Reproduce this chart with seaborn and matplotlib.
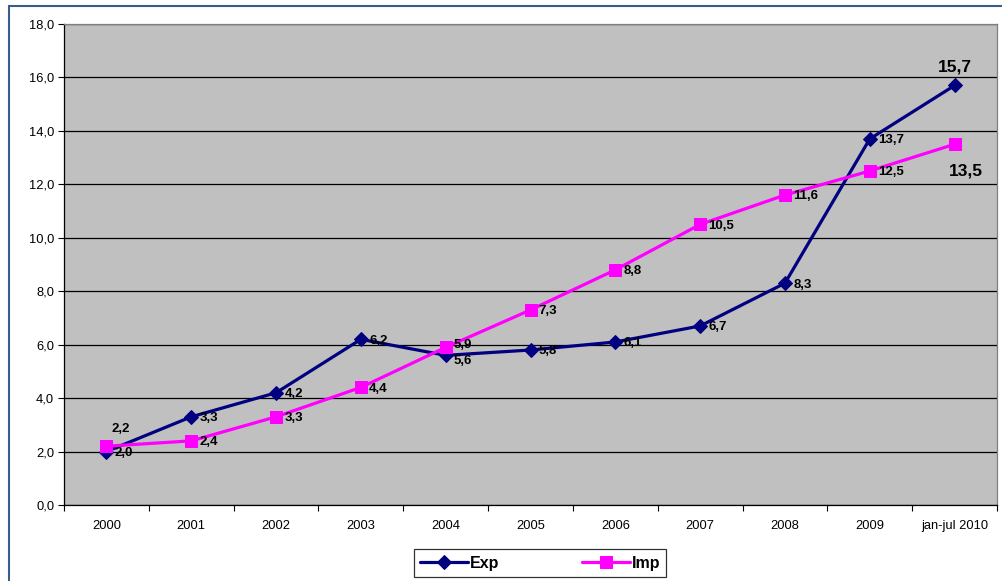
import seaborn as sns
import matplotlib.pyplot as plt
import pandas as pd
from matplotlib.patches import Rectangle
from matplotlib.ticker import FuncFormatter, FixedLocator

years = ["2000", "2001", "2002", "2003", "2004", "2005", "2006", "2007", "2008", "2009", "jan-jul 2010"]
exp_values = [2.0, 3.3, 4.2, 6.2, 5.6, 5.8, 6.1, 6.7, 8.3, 13.7, 15.7]
imp_values = [2.2, 2.4, 3.3, 4.4, 5.9, 7.3, 8.8, 10.5, 11.6, 12.5, 13.5]

df = pd.DataFrame({"year": years, "Exp": exp_values, "Imp": imp_values})

sns.set_style("white", {"text.color": "black", "xtick.color": "black", "ytick.color": "black"})
plt.rcParams["font.family"] = ["Liberation Sans", "DejaVu Sans"]

fig = plt.figure(figsize=(10.02, 5.81), dpi=100)
ax = fig.add_axes([64 / 1002, 1 - 505 / 581, (997 - 64) / 1002, (505 - 24) / 581])
ax.set_facecolor("#C0C0C0")

sns.lineplot(data=df, x="year", y="Exp", ax=ax, color="#000080", marker="D",
             markersize=7, linewidth=2.3, markeredgecolor="#000080", sort=False, label="Exp")
sns.lineplot(data=df, x="year", y="Imp", ax=ax, color="#FF00FF", marker="s",
             markersize=8, linewidth=2.3, markeredgecolor="#FF00FF", sort=False, label="Imp")

ax.set_ylim(0, 18)
ax.set_xlim(-0.5, len(years) - 0.5)
ax.set_yticks(range(0, 19, 2))
ax.yaxis.set_major_formatter(FuncFormatter(lambda v, p: f"{v:.1f}".replace(".", ",")))
ax.yaxis.grid(True, color="#000000", linewidth=0.9)
ax.set_axisbelow(True)
ax.set_xlabel("")
ax.set_ylabel("")

# ticks between categories
ax.xaxis.set_minor_locator(FixedLocator([i - 0.5 for i in range(len(years) + 1)]))
ax.tick_params(axis="x", which="major", length=0, labelsize=9.3, pad=11, labelcolor="black")
ax.tick_params(axis="x", which="minor", length=4, width=0.8, direction="out", bottom=True, color="black")
ax.tick_params(axis="y", length=4, width=0.8, direction="out", labelsize=9.3, left=True,
               pad=3, color="black", labelcolor="black")

for side in ["left", "bottom"]:
    ax.spines[side].set_color("#000000")
    ax.spines[side].set_linewidth(0.9)
for side in ["top", "right"]:
    ax.spines[side].set_color("#808080")
    ax.spines[side].set_linewidth(0.9)

fmt = lambda v: f"{v:.1f}".replace(".", ",")
n = len(years)
for i, v in enumerate(exp_values):
    if i == n - 1:
        ax.annotate(fmt(v), (i, v), xytext=(0, 8), textcoords="offset points",
                    ha="center", va="bottom", fontsize=12.5, fontweight="bold", color="black")
    else:
        dy = -4 if i == 4 else -1
        ax.annotate(fmt(v), (i, v), xytext=(6, dy), textcoords="offset points",
                    ha="left", va="center", fontsize=9.5, fontweight="bold", color="black")
for i, v in enumerate(imp_values):
    if i == n - 1:
        ax.annotate(fmt(v), (i, v), xytext=(8, -14), textcoords="offset points",
                    ha="center", va="top", fontsize=12.5, fontweight="bold", color="black")
    elif i == 0:
        ax.annotate(fmt(v), (i, v), xytext=(4, 8), textcoords="offset points",
                    ha="left", va="bottom", fontsize=9.5, fontweight="bold", color="black")
    else:
        dy = 2 if i == 4 else -1
        ax.annotate(fmt(v), (i, v), xytext=(6, dy), textcoords="offset points",
                    ha="left", va="center", fontsize=9.5, fontweight="bold", color="black")

ax.legend_.remove()
handles, labels = ax.get_legend_handles_labels()
leg = fig.legend(handles, labels, loc="lower center", bbox_to_anchor=(540 / 1002, 4 / 581),
                 ncol=2, frameon=True, fancybox=False, edgecolor="#000000",
                 prop={"weight": "bold", "size": 11.5}, handlelength=3.0,
                 columnspacing=5.2, borderpad=0.4, handletextpad=0.1, borderaxespad=0)
leg.get_frame().set_linewidth(0.9)
for t in leg.get_texts():
    t.set_color("black")

# outer chart border
fig.patches.append(Rectangle((9 / 1002, -0.05), 1.1, 1 - 6 / 581 + 0.05,
                             transform=fig.transFigure, fill=False,
                             edgecolor="#385D8A", linewidth=1.5))

fig.savefig("out.png", dpi=100)
